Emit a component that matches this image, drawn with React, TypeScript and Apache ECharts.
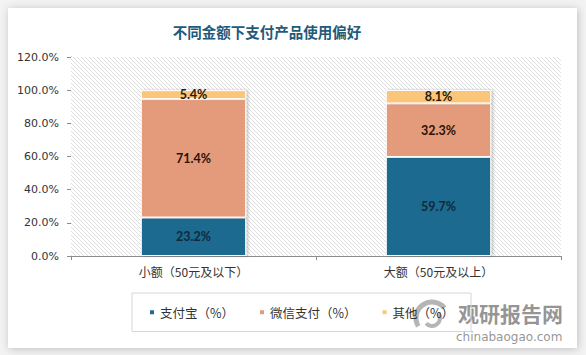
import React, { useEffect, useRef } from "react";
import * as echarts from "echarts";

const categories = ["小额（50元及以下）", "大额（50元及以上）"];
const alipay = [23.2, 59.7];
const wechat = [71.4, 32.3];
const others = [5.4, 8.1];
const seriesNames = ["支付宝（%）", "微信支付（%）", "其他（%）"];
const title = "不同金额下支付产品使用偏好";

function makeHatch() {
  const c = document.createElement("canvas");
  c.width = 4;
  c.height = 4;
  const ctx = c.getContext("2d")!;
  ctx.fillStyle = "#ffffff";
  ctx.fillRect(0, 0, 4, 4);
  ctx.fillStyle = "#dedede";
  for (let i = 0; i < 4; i++) ctx.fillRect(i, i, 1, 1);
  return c;
}

export default function App() {
  const ref = useRef<HTMLDivElement>(null);
  useEffect(() => {
    document.body.style.margin = "0";
    const chart = echarts.init(ref.current!, null, { renderer: "svg" });
    const hatch = makeHatch();
    const cjk = "'Noto Sans CJK SC', sans-serif";
    const lbl = (color: string) => ({
      show: true,
      position: "inside",
      formatter: (p: any) => p.value.toFixed(1) + "%",
      fontSize: 12.5,
      fontWeight: "bold",
      fontFamily: "Lato, 'DejaVu Sans', sans-serif",
      color,
    });
    const itemStyle = (color: string) => ({
      color,
      borderColor: "#ffffff",
      borderWidth: 1,
      shadowColor: "rgba(0,0,0,0.22)",
      shadowBlur: 3,
      shadowOffsetX: 2,
      shadowOffsetY: 0,
    });
    chart.setOption({
      animation: false,
      backgroundColor: "#f3f3f3",
      title: {
        text: title,
        left: 262,
        top: 19,
        textAlign: "center",
        textStyle: { fontSize: 14.5, fontWeight: "bold", color: "#1f5b79", fontFamily: cjk },
      },
      grid: {
        left: 71,
        right: 25,
        top: 57,
        bottom: 99,
        show: true,
        borderWidth: 0,
        backgroundColor: { image: hatch, repeat: "repeat", imageWidth: 4, imageHeight: 4 } as any,
        z: 1,
      },
      legend: {
        left: 132,
        top: 293,
        padding: [13, 17, 13, 16],
        borderColor: "#d6d6d6",
        borderWidth: 1,
        itemWidth: 6,
        itemHeight: 6,
        itemGap: 24,
        icon: "rect",
        data: seriesNames,
        textStyle: { fontSize: 12.5, color: "#333", fontFamily: cjk },
      },
      xAxis: {
        type: "category",
        data: categories,
        axisLine: { show: true, lineStyle: { color: "#8c8c8c" } },
        axisTick: { show: true, length: 4, lineStyle: { color: "#8c8c8c" } },
        axisLabel: { color: "#333", fontSize: 12, margin: 9, fontFamily: cjk },
      },
      yAxis: {
        type: "value",
        min: 0,
        max: 120,
        interval: 20,
        splitLine: { show: false },
        axisLine: { show: true, lineStyle: { color: "#8c8c8c" } },
        axisTick: { show: true, length: 4, lineStyle: { color: "#8c8c8c" } },
        axisLabel: {
          color: "#333",
          fontSize: 11,
          margin: 12,
          fontFamily: "'DejaVu Sans', sans-serif",
          formatter: (v: number) => v.toFixed(1) + "%",
        },
      },
      series: [
        { name: seriesNames[0], type: "bar", stack: "s", barWidth: "43%", data: alipay, itemStyle: itemStyle("#1f6b8f"), label: lbl("#12293b"), z: 3 },
        { name: seriesNames[1], type: "bar", stack: "s", barWidth: "43%", data: wechat, itemStyle: itemStyle("#e49b7b"), label: lbl("#2a1208"), z: 3 },
        { name: seriesNames[2], type: "bar", stack: "s", barWidth: "43%", data: others, itemStyle: itemStyle("#fbc57a"), label: lbl("#2a1a08"), z: 3 },
      ],
      graphic: [
        {
          type: "rect",
          z: -10,
          silent: true,
          shape: { x: 8, y: 8, width: 569, height: 340 },
          style: { fill: "#ffffff", shadowBlur: 8, shadowColor: "rgba(0,0,0,0.22)", shadowOffsetX: 1, shadowOffsetY: 1 },
        },
        {
          type: "group",
          z: 100,
          silent: true,
          children: [
            { type: "arc", shape: { cx: 432, cy: 318, r: 16, startAngle: 2.6, endAngle: 5.6 }, style: { stroke: "rgba(150,150,150,0.7)", lineWidth: 5, fill: "none" } },
            { type: "arc", shape: { cx: 432, cy: 318, r: 8, startAngle: -0.6, endAngle: 2.4 }, style: { stroke: "rgba(150,150,150,0.7)", lineWidth: 4, fill: "none" } },
            { type: "text", style: { text: "观研报告网", x: 458, y: 313, verticalAlign: "middle", font: "bold 21px 'Noto Sans CJK SC', sans-serif", fill: "rgba(130,130,130,0.85)" } },
            { type: "text", style: { text: "chinabaogao.com", x: 456, y: 337, verticalAlign: "middle", font: "12px 'DejaVu Sans', sans-serif", fill: "rgba(130,130,130,0.85)" } },
          ],
        },
      ],
    });
    return () => chart.dispose();
  }, []);
  return <div ref={ref} style={{ width: 586, height: 355 }} />;
}
